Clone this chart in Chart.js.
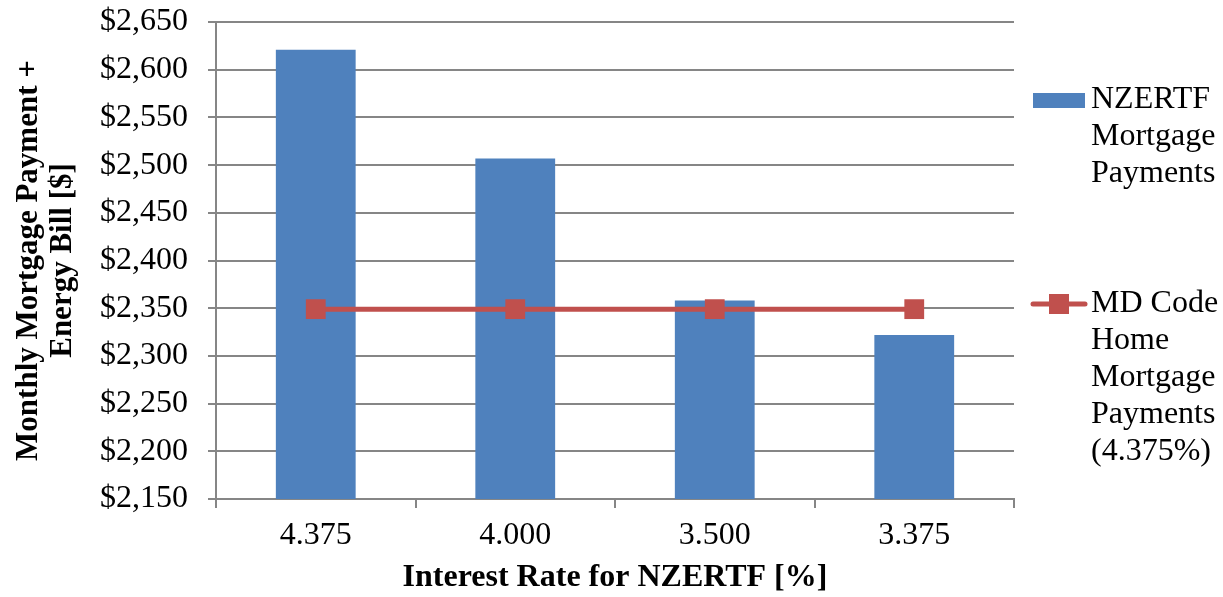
<!DOCTYPE html>
<html>
<head>
<meta charset="utf-8">
<script src="https://cdn.jsdelivr.net/npm/chart.js@4"></script>
<style>
html,body{margin:0;padding:0;background:#fff;}
#wrap{width:1223px;height:597px;position:relative;}
</style>
</head>
<body>
<div id="wrap"><canvas id="c" width="1223" height="597"></canvas></div>
<script>
const categories = ["4.375", "4.000", "3.500", "3.375"];
const nzertfPayments = [2621, 2507, 2358, 2322];
const mdCodePayments = [2349, 2349, 2349, 2349];
const seriesNames = [["NZERTF", "Mortgage", "Payments"], ["MD Code", "Home", "Mortgage", "Payments", "(4.375%)"]];
const yTitle = ["Monthly Mortgage Payment +", "Energy Bill [$]"];
const xTitle = "Interest Rate for NZERTF [%]";

const FONT = "'Liberation Serif', 'Times New Roman', serif";
const GRID = "#868686";
const BLUE = "#4F81BD";
const RED = "#C0504D";

const legendPlugin = {
  id: 'sideLegend',
  afterDraw(chart) {
    const ctx = chart.ctx;
    ctx.save();
    ctx.font = "32px " + FONT;
    ctx.fillStyle = "#000";
    ctx.textBaseline = "middle";
    ctx.textAlign = "left";
    const tx = 1091, lh = 37;
    const y1 = 100;
    ctx.fillStyle = BLUE;
    ctx.fillRect(1033, y1 - 7, 52, 15);
    ctx.fillStyle = "#000";
    seriesNames[0].forEach((t, i) => ctx.fillText(t, tx, y1 + i * lh));
    const y2 = 304;
    ctx.strokeStyle = RED;
    ctx.lineWidth = 5;
    ctx.lineCap = "round";
    ctx.beginPath(); ctx.moveTo(1033, y2); ctx.lineTo(1085, y2); ctx.stroke();
    ctx.fillStyle = RED;
    ctx.fillRect(1049, y2 - 10, 20, 20);
    ctx.fillStyle = "#000";
    seriesNames[1].forEach((t, i) => ctx.fillText(t, tx, y2 + i * lh));
    ctx.restore();
  }
};

new Chart(document.getElementById('c'), {
  data: {
    labels: categories,
    datasets: [
      {
        type: 'line',
        label: seriesNames[1].join(' '),
        data: mdCodePayments,
        borderColor: RED,
        backgroundColor: RED,
        borderWidth: 5,
        pointStyle: 'rect',
        pointRadius: 14,
        pointHoverRadius: 14,
        pointBackgroundColor: RED,
        pointBorderColor: RED,
        pointBorderWidth: 0,
        tension: 0,
        order: 0
      },
      {
        type: 'bar',
        label: seriesNames[0].join(' '),
        data: nzertfPayments,
        backgroundColor: BLUE,
        borderWidth: 0,
        categoryPercentage: 1.0,
        barPercentage: 0.4,
        order: 1
      }
    ]
  },
  options: {
    responsive: false,
    animation: false,
    devicePixelRatio: 1,
    layout: { padding: { top: 22, right: 209, left: 0, bottom: 0 } },
    plugins: {
      legend: { display: false },
      tooltip: { enabled: false }
    },
    scales: {
      x: {
        offset: true,
        grid: {
          offset: true,
          drawOnChartArea: false,
          drawTicks: true,
          tickLength: 9,
          color: GRID,
          lineWidth: 2
        },
        border: { display: true, color: GRID, width: 2 },
        ticks: { color: "#000", font: { family: FONT, size: 32 }, padding: 8 },
        title: {
          display: true,
          text: xTitle,
          color: "#000",
          font: { family: FONT, size: 32, weight: 'bold' },
          padding: { top: 0, bottom: 0 }
        },
        afterFit(scale) { scale.height = 98; scale.paddingLeft = 0; scale.paddingRight = 0; }
      },
      y: {
        min: 2150,
        max: 2650,
        ticks: {
          stepSize: 50,
          color: "#000",
          font: { family: FONT, size: 32 },
          padding: 20,
          callback: v => "$" + v.toLocaleString('en-US')
        },
        grid: { color: GRID, lineWidth: 2, tickLength: 8 },
        border: { display: true, color: GRID, width: 2 },
        title: {
          display: true,
          text: yTitle,
          color: "#000",
          font: { family: FONT, size: 31, weight: 'bold', lineHeight: 1.1 },
          padding: { top: 12, bottom: 0 }
        },
        afterFit(scale) { scale.width = 216; scale.paddingTop = 0; scale.paddingBottom = 0; }
      }
    }
  },
  plugins: [legendPlugin]
});
</script>
</body>
</html>
